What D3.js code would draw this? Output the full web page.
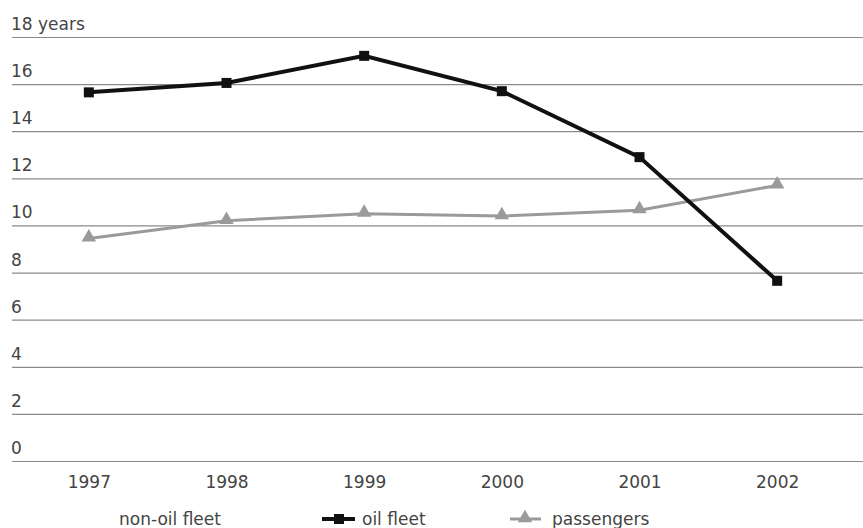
<!DOCTYPE html>
<html>
<head>
<meta charset="utf-8">
<script src="https://cdn.jsdelivr.net/npm/d3@7"></script>
<style>
  body { margin: 0; background: #fff; }
  text { font-family: "DejaVu Sans", sans-serif; fill: #444; }
</style>
</head>
<body>
<div id="svgdiv"></div>
<script>
// chart data
var years = ["1997", "1998", "1999", "2000", "2001", "2002"];
var oilFleet = [15.65, 16.05, 17.2, 15.7, 12.9, 7.65];
var passengers = [9.45, 10.2, 10.5, 10.4, 10.65, 11.7];
var yTicks = [0, 2, 4, 6, 8, 10, 12, 14, 16, 18];
var legendNames = ["non-oil fleet", "oil fleet", "passengers"];

var width = 863, height = 528;
var fontSize = "17px";

let svg = d3.select("#svgdiv").append("svg")
    .attr("width", width)
    .attr("height", height);

var x = d3.scalePoint()
    .domain(years)
    .range([20, 846])
    .padding(0.5);

var y = d3.scaleLinear()
    .domain([0, 18])
    .range([461, 37]);

// horizontal gridlines with labels sitting above them
var grid = svg.append("g");
grid.selectAll("line")
    .data(yTicks)
    .enter().append("line")
    .attr("x1", 12)
    .attr("x2", width)
    .attr("y1", d => y(d) + 0.5)
    .attr("y2", d => y(d) + 0.5)
    .style("stroke", "#8a8a8a")
    .style("stroke-width", 1.2);

grid.selectAll("text")
    .data(yTicks)
    .enter().append("text")
    .attr("x", 11)
    .attr("y", d => y(d) - 7)
    .style("font-size", fontSize)
    .text(d => d == 18 ? "18 years" : d);

// x labels
var xAxis = d3.axisBottom(x).tickSize(0).tickPadding(0);
svg.append("g")
    .attr("transform", "translate(0,482)")
    .call(xAxis)
    .call(g => g.select(".domain").remove())
    .selectAll("text")
    .attr("dy", "0.35em")
    .style("font-size", fontSize)
    .style("font-family", "\"DejaVu Sans\", sans-serif")
    .attr("fill", "#444");

var line = d3.line()
    .x((d, i) => x(years[i]))
    .y(d => y(d));

// passengers series
svg.append("path")
    .datum(passengers)
    .attr("d", line)
    .style("fill", "none")
    .style("stroke", "#9a9a9a")
    .style("stroke-width", 3);

var tri = d3.symbol().type(d3.symbolTriangle).size(90);
svg.selectAll(".tri")
    .data(passengers)
    .enter().append("path")
    .attr("class", "tri")
    .attr("d", tri)
    .attr("transform", (d, i) => "translate(" + x(years[i]) + "," + (y(d) - 1) + ")")
    .style("fill", "#9a9a9a");

// oil fleet series
svg.append("path")
    .datum(oilFleet)
    .attr("d", line)
    .style("fill", "none")
    .style("stroke", "#111")
    .style("stroke-width", 4);

svg.selectAll(".sq")
    .data(oilFleet)
    .enter().append("rect")
    .attr("class", "sq")
    .attr("x", (d, i) => x(years[i]) - 5)
    .attr("y", d => y(d) - 5)
    .attr("width", 10)
    .attr("height", 10)
    .style("fill", "#111");

// legend
var ly = 519;
svg.append("text")
    .attr("x", 119)
    .attr("y", ly + 6)
    .style("font-size", fontSize)
    .text(legendNames[0]);

svg.append("line")
    .attr("x1", 322).attr("x2", 355)
    .attr("y1", ly).attr("y2", ly)
    .style("stroke", "#111").style("stroke-width", 4);
svg.append("rect")
    .attr("x", 334).attr("y", ly - 5)
    .attr("width", 10).attr("height", 10)
    .style("fill", "#111");
svg.append("text")
    .attr("x", 362)
    .attr("y", ly + 6)
    .style("font-size", fontSize)
    .text(legendNames[1]);

svg.append("line")
    .attr("x1", 510).attr("x2", 541)
    .attr("y1", ly).attr("y2", ly)
    .style("stroke", "#9a9a9a").style("stroke-width", 3);
svg.append("path")
    .attr("d", tri)
    .attr("transform", "translate(525," + (ly - 1) + ")")
    .style("fill", "#9a9a9a");
svg.append("text")
    .attr("x", 552)
    .attr("y", ly + 6)
    .style("font-size", fontSize)
    .text(legendNames[2]);
</script>
</body>
</html>
